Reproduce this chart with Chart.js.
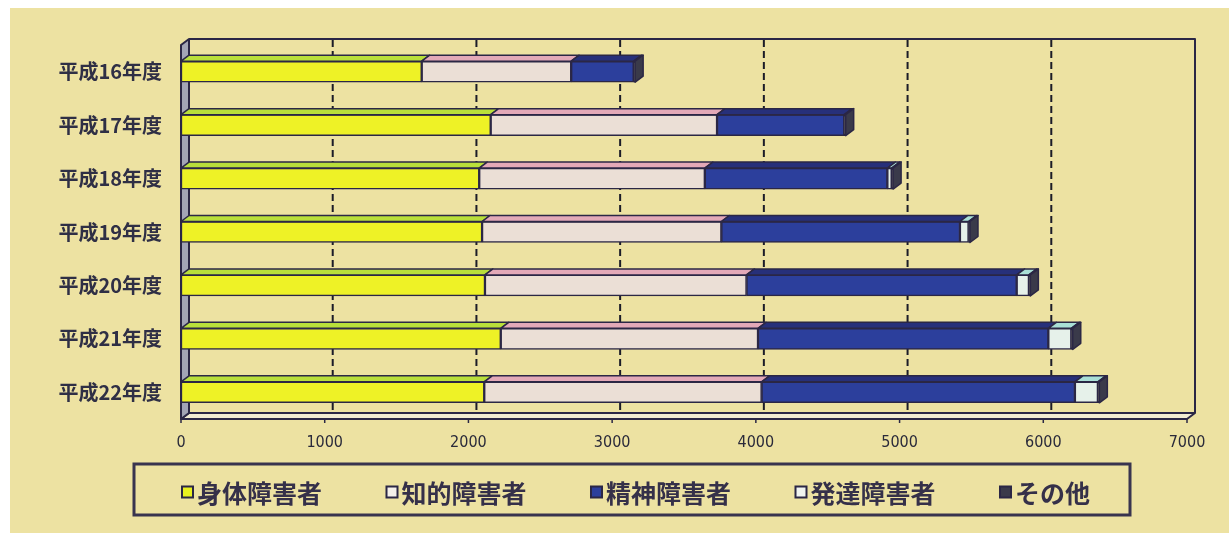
<!DOCTYPE html>
<html>
<head>
<meta charset="utf-8">
<script src="https://cdn.jsdelivr.net/npm/chart.js@4.4.0/dist/chart.umd.min.js"></script>
<style>
  html, body { margin: 0; padding: 0; background: #fff; }
</style>
</head>
<body>
<canvas id="myBarChart" width="1229" height="533"></canvas>
<script>
// 年度別の利用者数（障害種別）
const years = ['平成16年度', '平成17年度', '平成18年度', '平成19年度', '平成20年度', '平成21年度', '平成22年度'];
const shintai = [1675, 2155, 2075, 2095, 2115, 2225, 2110];   // 身体障害者
const chiteki = [1040, 1575, 1570, 1665, 1820, 1790, 1930];   // 知的障害者
const seishin = [435, 885, 1270, 1660, 1880, 2020, 2180];     // 精神障害者
const hattatsu = [0, 0, 30, 60, 85, 160, 160];                // 発達障害者
const sonota = [10, 10, 10, 10, 10, 10, 10];                  // その他
const xMax = 7000;
const xStep = 1000;

// 奥行き（擬似3D）
const DX = 8, DY = 6;
const INK = '#2b2745';
const topColors = ['#b9df3a', '#e3a9b8', '#27307a', '#a9dfd6', '#4a4a5c'];

function poly(ctx, pts, fill) {
    ctx.beginPath();
    ctx.moveTo(pts[0][0], pts[0][1]);
    for (let k = 1; k < pts.length; k++) ctx.lineTo(pts[k][0], pts[k][1]);
    ctx.closePath();
    if (fill) { ctx.fillStyle = fill; ctx.fill(); }
    ctx.stroke();
}

// 背景、壁、床、目盛線
const wallPlugin = {
    id: 'wall',
    beforeDraw(chart) {
        const ctx = chart.ctx;
        ctx.save();
        ctx.fillStyle = '#ffffff';
        ctx.fillRect(0, 0, chart.width, chart.height);
        ctx.fillStyle = '#ede2a2';
        ctx.fillRect(10, 8, chart.width - 10, chart.height - 8);
        ctx.restore();
    },
    beforeDatasetsDraw(chart) {
        const ctx = chart.ctx;
        const a = chart.chartArea;
        const xs = chart.scales.x;
        ctx.save();
        ctx.strokeStyle = INK;
        ctx.lineJoin = 'round';

        // 床
        ctx.lineWidth = 2;
        poly(ctx, [[a.left, a.bottom], [a.right, a.bottom], [a.right + DX, a.bottom - DY], [a.left + DX, a.bottom - DY]], '#f2ecd2');
        // 左の壁
        poly(ctx, [[a.left, a.top], [a.left + DX, a.top - DY], [a.left + DX, a.bottom - DY], [a.left, a.bottom]], '#a3a5b5');

        // 奥の壁の枠
        ctx.beginPath();
        ctx.moveTo(a.left + DX, a.top - DY);
        ctx.lineTo(a.right + DX, a.top - DY);
        ctx.lineTo(a.right + DX, a.bottom - DY);
        ctx.stroke();

        // 目盛線（破線）
        ctx.strokeStyle = '#1c1c28';
        ctx.lineWidth = 2;
        ctx.setLineDash([7, 4]);
        for (let v = xStep; v < xMax; v += xStep) {
            const px = xs.getPixelForValue(v) + DX;
            ctx.beginPath();
            ctx.moveTo(px, a.top - DY + 1);
            ctx.lineTo(px, a.bottom - DY - 1);
            ctx.stroke();
        }
        ctx.setLineDash([]);

        // 床の目盛
        ctx.strokeStyle = INK;
        ctx.lineWidth = 1.5;
        for (let v = 0; v <= xMax; v += xStep) {
            const px = xs.getPixelForValue(v);
            ctx.beginPath();
            ctx.moveTo(px, a.bottom);
            ctx.lineTo(px, a.bottom + 4);
            ctx.stroke();
        }
        ctx.restore();
    }
};

// 棒の上面と端面
const boxPlugin = {
    id: 'box3d',
    afterDatasetsDraw(chart) {
        const ctx = chart.ctx;
        const sets = chart.data.datasets;
        ctx.save();
        ctx.strokeStyle = INK;
        ctx.lineWidth = 1.5;
        ctx.lineJoin = 'round';
        years.forEach((_, j) => {
            let last = -1;
            sets.forEach((ds, i) => { if (ds.data[j] > 0) last = i; });
            sets.forEach((ds, i) => {
                const bar = chart.getDatasetMeta(i).data[j];
                const p = bar.getProps(['x', 'y', 'base', 'height'], true);
                const l = Math.min(p.base, p.x), r = Math.max(p.base, p.x);
                if (r - l < 0.01) return;
                const t = p.y - p.height / 2, b = p.y + p.height / 2;
                poly(ctx, [[l, t], [l + DX, t - DY], [r + DX, t - DY], [r, t]], topColors[i]);
                if (i === last) {
                    poly(ctx, [[r, t], [r + DX, t - DY], [r + DX, b - DY], [r, b]], '#3a3a4a');
                }
            });
        });
        ctx.restore();
    }
};

// 凡例（枠付き）
const legendBoxPlugin = {
    id: 'legendBox',
    afterDraw(chart) {
        const ctx = chart.ctx;
        const sets = chart.data.datasets;
        ctx.save();
        ctx.strokeStyle = '#39344f';
        ctx.lineWidth = 3;
        ctx.strokeRect(134, 464, 996, 51);

        ctx.font = 'bold 25px "Noto Sans CJK JP", sans-serif';
        ctx.textBaseline = 'middle';
        const cy = 492;
        const box = 11, gapText = 4;
        const widths = sets.map(ds => box + gapText + ctx.measureText(ds.label).width);
        const total = widths.reduce((s, w) => s + w, 0);
        const startX = 182, endX = 1090;
        const gap = (endX - startX - total) / (sets.length - 1);
        let x = startX;
        sets.forEach((ds, i) => {
            ctx.fillStyle = ds.legendColor;
            ctx.fillRect(x, cy - box / 2, box, box);
            ctx.lineWidth = 2;
            ctx.strokeStyle = '#2b2745';
            ctx.strokeRect(x, cy - box / 2, box, box);
            ctx.fillStyle = '#353049';
            ctx.fillText(ds.label, x + box + gapText, cy + 1);
            x += widths[i] + gap;
        });
        ctx.restore();
    }
};

const ctx = document.getElementById('myBarChart').getContext('2d');
const myBarChart = new Chart(ctx, {
    type: 'bar',
    data: {
        labels: years,
        datasets: [
            { label: '身体障害者', data: shintai, backgroundColor: '#eef226', legendColor: '#e8f020' },
            { label: '知的障害者', data: chiteki, backgroundColor: '#ebdfd6', legendColor: '#f4f0ea' },
            { label: '精神障害者', data: seishin, backgroundColor: '#2c3f9c', legendColor: '#2c3f9c' },
            { label: '発達障害者', data: hattatsu, backgroundColor: '#e6f1ea', legendColor: '#f0f4f0' },
            { label: 'その他', data: sonota, backgroundColor: '#3a3a4a', legendColor: '#3a3a4a' }
        ].map(ds => Object.assign(ds, {
            borderColor: INK,
            borderWidth: 1.5,
            borderSkipped: false,
            barThickness: 21
        }))
    },
    options: {
        indexAxis: 'y',
        responsive: false,
        animation: false,
        devicePixelRatio: 1,
        layout: { padding: { left: 0, right: 42, top: 45, bottom: 0 } },
        plugins: {
            legend: { display: false },
            tooltip: { enabled: false }
        },
        scales: {
            x: {
                stacked: true,
                min: 0,
                max: xMax,
                grid: { display: false, drawTicks: false },
                border: { display: false },
                ticks: {
                    stepSize: xStep,
                    padding: 14,
                    color: '#2a2a3a',
                    font: { family: '"Liberation Sans Narrow", "DejaVu Sans Condensed", "DejaVu Sans", sans-serif', size: 16 },
                    callback: value => String(value)
                },
                afterFit(scale) { scale.height = 114; }
            },
            y: {
                stacked: true,
                grid: { display: false, drawTicks: false },
                border: { display: false },
                ticks: {
                    padding: 19,
                    color: '#2f2f45',
                    font: { family: '"Noto Sans CJK JP", sans-serif', size: 20, weight: 'bold' }
                },
                afterFit(scale) { scale.width = 181; }
            }
        }
    },
    plugins: [wallPlugin, boxPlugin, legendBoxPlugin]
});
</script>
</body>
</html>
